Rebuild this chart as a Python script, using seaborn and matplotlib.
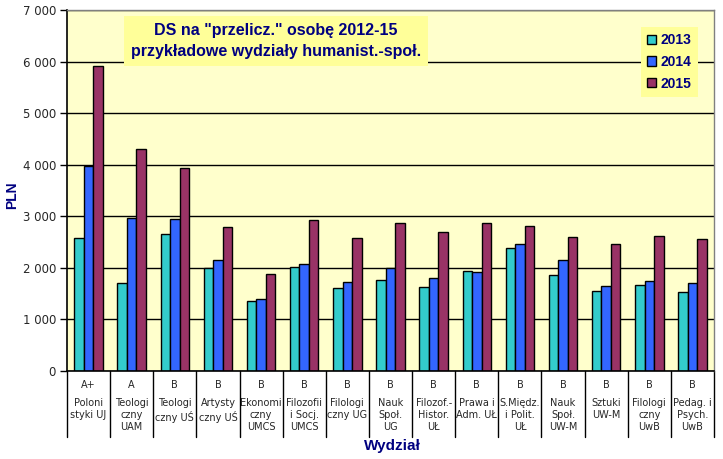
import pandas as pd
import seaborn as sns
import matplotlib.pyplot as plt
import matplotlib.transforms as mtransforms

# data
grades = ["A+", "A", "B", "B", "B", "B", "B", "B", "B", "B", "B", "B", "B", "B", "B"]
faculties = ["Poloni\nstyki UJ", "Teologi\nczny\nUAM", "Teologi\nczny UŚ", "Artysty\nczny UŚ",
             "Ekonomi\nczny\nUMCS", "Filozofii\ni Socj.\nUMCS", "Filologi\nczny UG", "Nauk\nSpoł.\nUG",
             "Filozof.-\nHistor.\nUŁ", "Prawa i\nAdm. UŁ", "S.Międz.\ni Polit.\nUŁ", "Nauk\nSpoł.\nUW-M",
             "Sztuki\nUW-M", "Filologi\nczny\nUwB", "Pedag. i\nPsych.\nUwB"]
years = ["2013", "2014", "2015"]
ds_2013 = [2570, 1700, 2650, 1990, 1350, 2010, 1600, 1760, 1630, 1930, 2380, 1855, 1545, 1660, 1525]
ds_2014 = [3975, 2960, 2940, 2150, 1395, 2070, 1720, 1990, 1800, 1910, 2455, 2150, 1640, 1740, 1700]
ds_2015 = [5915, 4305, 3935, 2785, 1875, 2925, 2575, 2870, 2695, 2870, 2805, 2590, 2455, 2610, 2555]

colors = ["#33CCCC", "#3366FF", "#993366"]
navy = "#000080"

ids = [str(i) for i in range(len(faculties))]
df = pd.DataFrame({
    "wydzial": ids * 3,
    "rok": [y for y in years for _ in ids],
    "ds": ds_2013 + ds_2014 + ds_2015,
})

sns.set_theme(style="white")
plt.rcParams["font.family"] = ["DejaVu Sans"]

fig = plt.figure(figsize=(7.23, 4.59), dpi=100)
ax = fig.add_axes([67 / 723, 1 - 371 / 459, (714 - 67) / 723, (371 - 10) / 459])
ax.set_facecolor("#FFFFCC")

sns.barplot(data=df, x="wydzial", y="ds", hue="rok", palette=colors, width=0.66, gap=0,
            edgecolor="black", linewidth=1, saturation=1, ax=ax)

ax.set_ylim(0, 7000)
ax.set_xlim(-0.5, len(faculties) - 0.5)
ax.set_yticks(range(0, 7001, 1000))
ax.set_yticklabels([f"{v:,}".replace(",", " ") for v in range(0, 7001, 1000)], fontsize=8.5)
ax.yaxis.grid(True, color="black", linewidth=1)
ax.set_axisbelow(True)
ax.tick_params(axis="y", left=True, length=5, width=1, color="black", pad=3)
ax.set_xticks([])
ax.set_xlabel("")
ax.set_ylabel("")

for side in ["left", "bottom"]:
    ax.spines[side].set_color("black")
    ax.spines[side].set_linewidth(1.2)
for side in ["top", "right"]:
    ax.spines[side].set_color("#808080")
    ax.spines[side].set_linewidth(1)

# category separators and two-level labels
trans = mtransforms.blended_transform_factory(ax.transData, ax.transAxes)
for i in range(len(faculties) + 1):
    ax.plot([i - 0.5, i - 0.5], [0, -0.183], color="black", lw=1, transform=trans, clip_on=False)
for i, (g, name) in enumerate(zip(grades, faculties)):
    ax.text(i, -0.039, g, ha="center", va="center", fontsize=7, transform=trans)
    ax.text(i, -0.075, name, ha="center", va="top", fontsize=7, linespacing=1.25, transform=trans)

fig.text(392 / 723, 1 - 446 / 459, "Wydział", ha="center", va="center", fontsize=11,
         fontweight="bold", color=navy, family="Liberation Sans")
fig.text(12 / 723, 1 - 195 / 459, "PLN", ha="center", va="center", rotation=90, fontsize=10,
         fontweight="bold", color=navy, family="Liberation Sans")

fig.text(276 / 723, 1 - 41 / 459, 'DS na "przelicz." osobę 2012-15\nprzykładowe wydziały humanist.-społ.',
         ha="center", va="center", fontsize=11.5, fontweight="bold", color=navy,
         family="Liberation Sans", linespacing=1.45,
         bbox=dict(facecolor="#FFFF99", edgecolor="none", pad=5))

handles, labels = ax.get_legend_handles_labels()
ax.legend(handles, labels, loc="upper left", bbox_to_anchor=(641 / 723, 1 - 27 / 459),
          bbox_transform=fig.transFigure, frameon=True, facecolor="#FFFF99", edgecolor="none",
          fancybox=False, framealpha=1, handlelength=0.65, handleheight=0.65, handletextpad=0.3,
          labelspacing=0.55, borderpad=0.45, borderaxespad=0,
          prop={"family": "Liberation Sans", "weight": "bold", "size": 10})
for t in ax.get_legend().get_texts():
    t.set_color(navy)

fig.savefig("out.png", dpi=100)
